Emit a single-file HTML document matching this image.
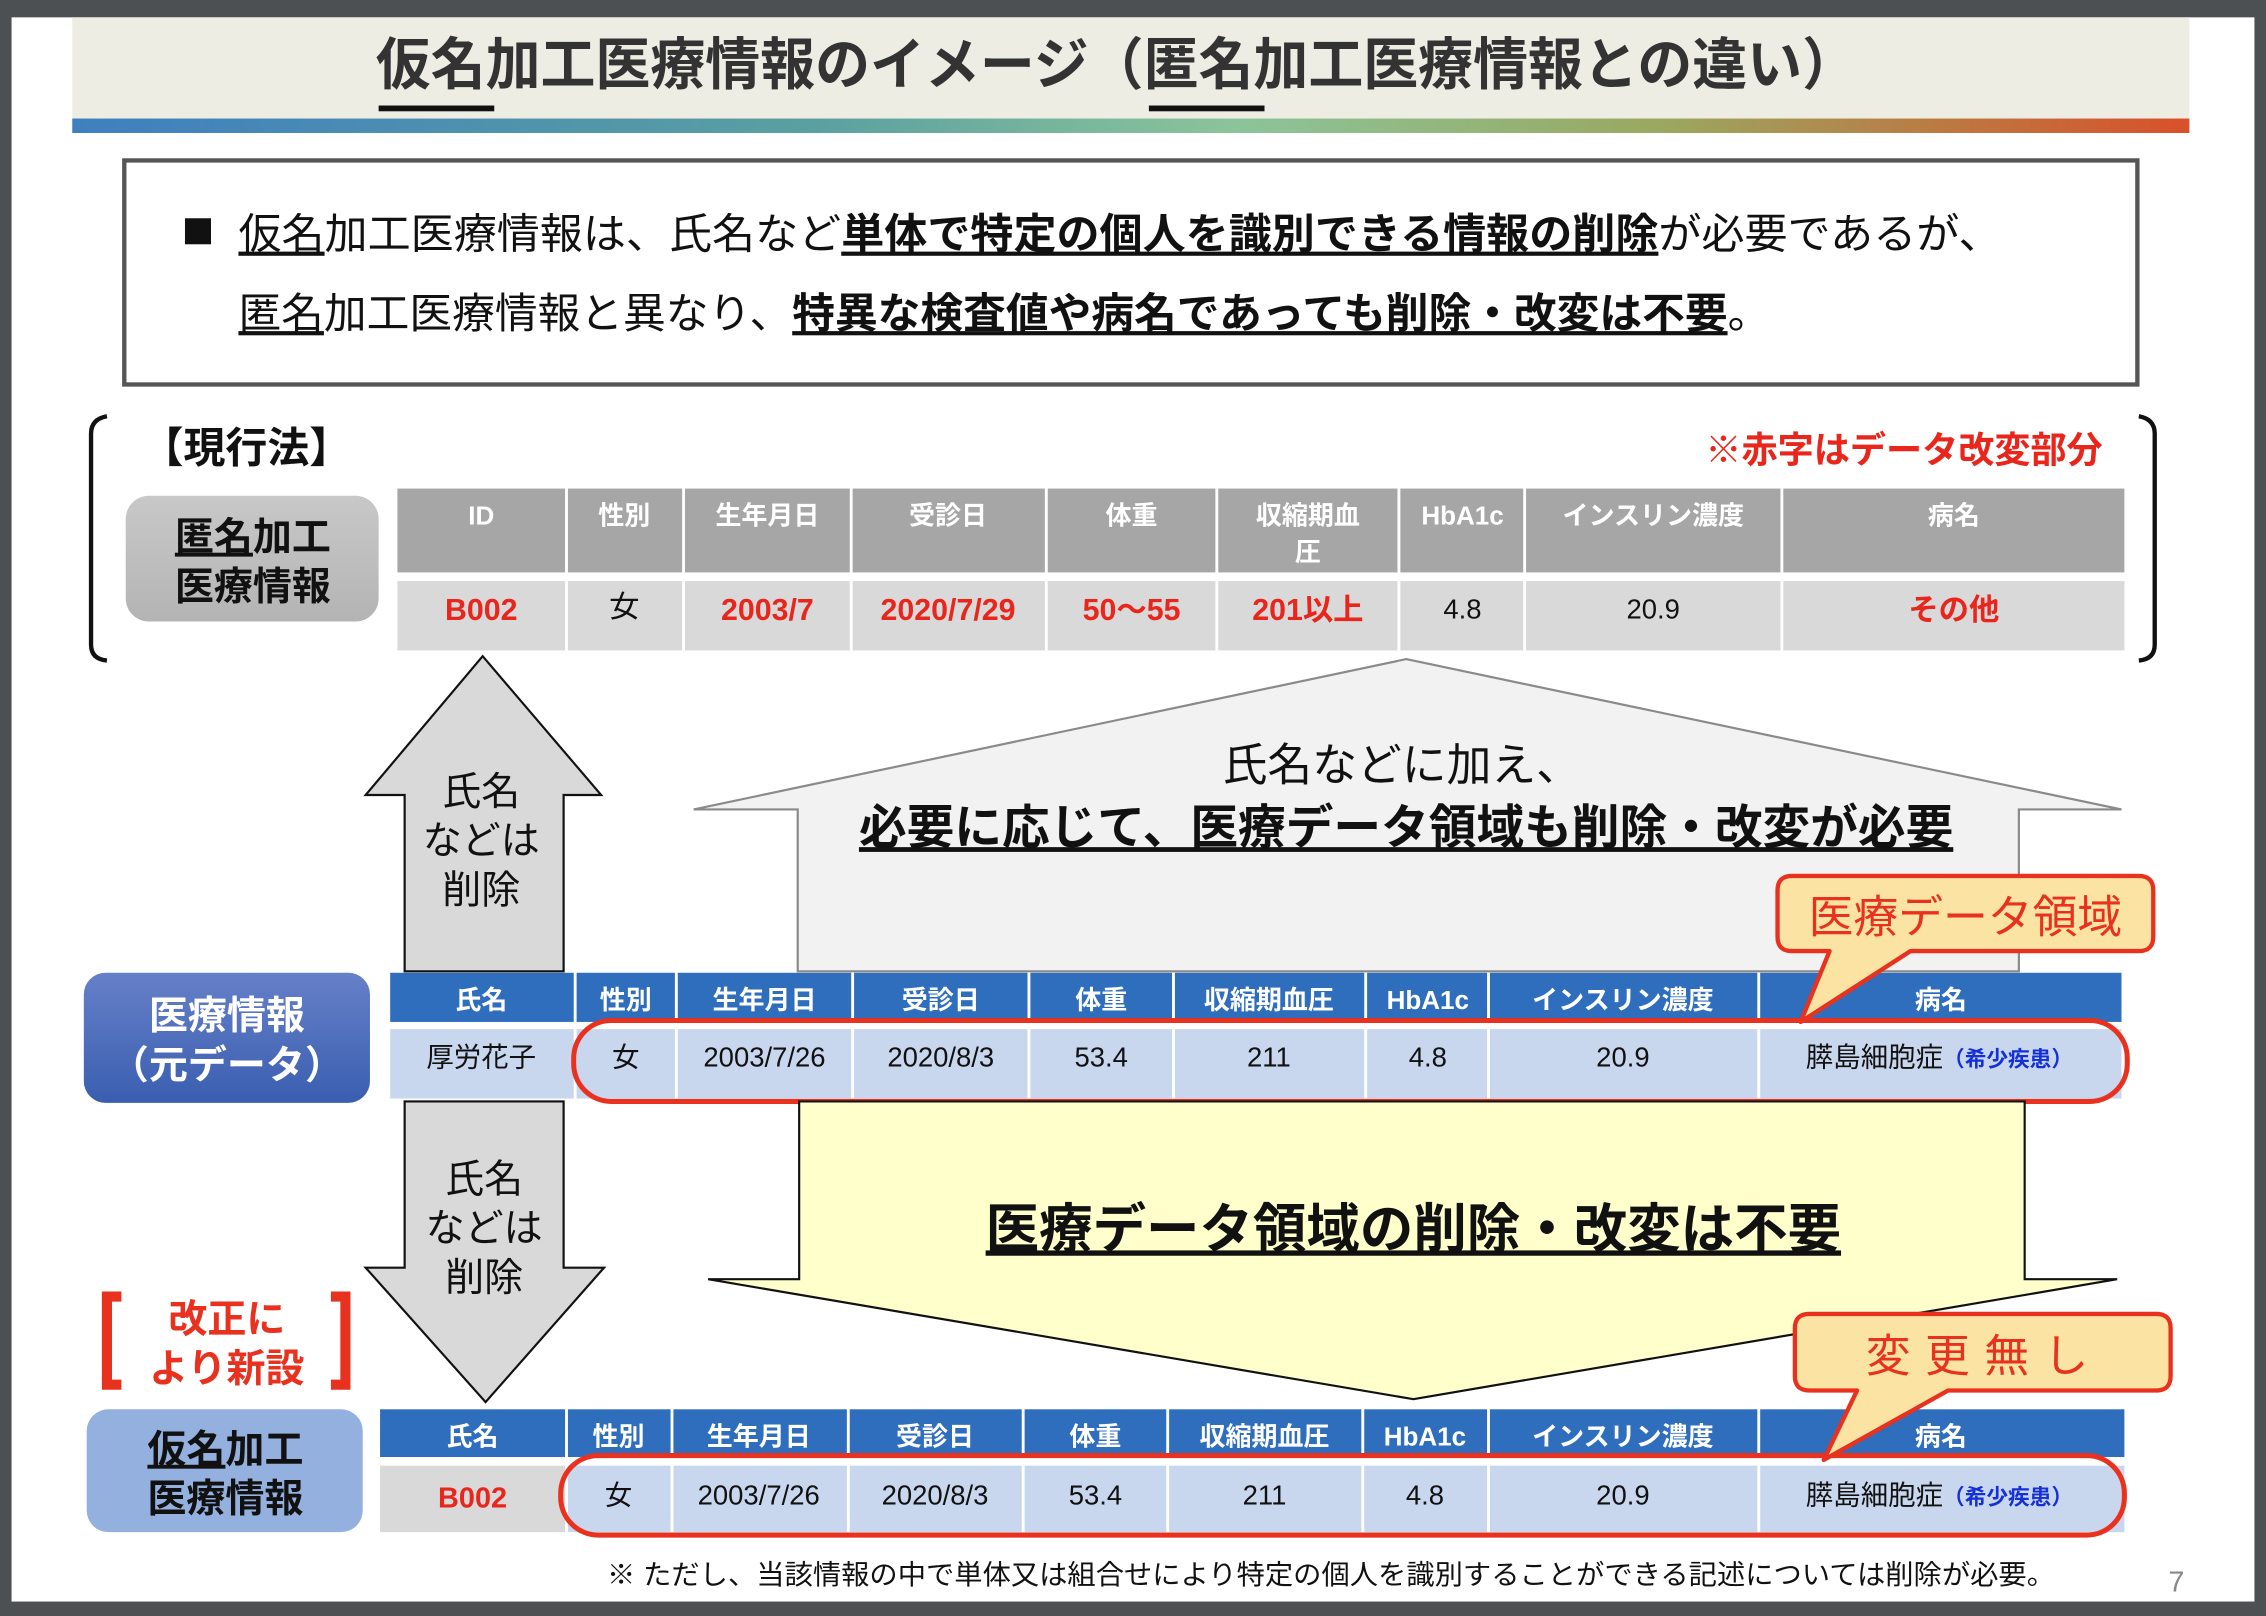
<!DOCTYPE html>
<html><head><meta charset="utf-8">
<style>
html,body{margin:0;padding:0;background:#fff;}
svg{display:block;}
text{font-family:"Liberation Sans","Noto Sans CJK JP",sans-serif;}
</style></head>
<body>
<svg width="2266" height="1616" viewBox="0 0 1568 1118" preserveAspectRatio="none" xmlns="http://www.w3.org/2000/svg">
<defs>
<linearGradient id="bar" x1="0" x2="1" y1="0" y2="0">
<stop offset="0" stop-color="#3f7fbf"/><stop offset="0.35" stop-color="#5aa0a0"/><stop offset="0.55" stop-color="#8cc49a"/><stop offset="0.75" stop-color="#9aa860"/><stop offset="1" stop-color="#d9502a"/>
</linearGradient>
<linearGradient id="blue" x1="0" x2="0" y1="0" y2="1">
<stop offset="0" stop-color="#6680c8"/><stop offset="1" stop-color="#3a5eb0"/>
</linearGradient>
<linearGradient id="gray" x1="0" x2="0" y1="0" y2="1">
<stop offset="0" stop-color="#c8c8c8"/><stop offset="1" stop-color="#b4b4b4"/>
</linearGradient>
</defs>
<rect x="0" y="0" width="1568" height="1118" fill="#4d5053"/>
<rect x="8" y="12" width="1552" height="1096" fill="#fff"/>
<rect x="50" y="12" width="1465" height="70" fill="#eeede4"/>
<rect x="50" y="82" width="1465" height="10" fill="url(#bar)"/>
<text x="260" y="58" font-size="39" font-weight="bold" fill="#333" textLength="1025" lengthAdjust="spacingAndGlyphs">仮名加工医療情報のイメージ（匿名加工医療情報との違い）</text>
<rect x="262" y="73" width="80" height="4" fill="#111"/>
<rect x="795" y="73" width="80" height="4" fill="#111"/>
<rect x="86" y="111" width="1393" height="155" fill="#fff" stroke="#555" stroke-width="3"/>
<rect x="128" y="151" width="18" height="18" fill="#111"/>
<text x="165" y="172" font-size="29" fill="#111" textLength="1220" lengthAdjust="spacingAndGlyphs"><tspan text-decoration="underline">仮名</tspan>加工医療情報は、氏名など<tspan font-weight="bold" text-decoration="underline">単体で特定の個人を識別できる情報の削除</tspan>が必要であるが、</text>
<text x="165" y="227" font-size="29" fill="#111" textLength="1060" lengthAdjust="spacingAndGlyphs"><tspan text-decoration="underline">匿名</tspan>加工医療情報と異なり、<tspan font-weight="bold" text-decoration="underline">特異な検査値や病名であっても削除・改変は不要</tspan>。</text>
<path d="M74 288 Q63 290 63 300 L63 446 Q63 456 74 457" fill="none" stroke="#111" stroke-width="3"/>
<path d="M1480 288 Q1491 290 1491 300 L1491 446 Q1491 456 1480 457" fill="none" stroke="#111" stroke-width="3"/>
<text x="98" y="320" font-size="29" font-weight="bold" fill="#111">【現行法】</text>
<text x="1455" y="320" font-size="25" font-weight="bold" fill="#e8261c" text-anchor="end">※赤字はデータ改変部分</text>
<rect x="87" y="343" width="175" height="87" rx="16" fill="url(#gray)"/>
<text x="175" y="381" font-size="27" font-weight="bold" fill="#111" text-anchor="middle"><tspan text-decoration="underline">匿名</tspan>加工</text>
<text x="175" y="415" font-size="27" font-weight="bold" fill="#111" text-anchor="middle">医療情報</text>
<g fill="#a6a6a6">
<rect x="275" y="338" width="116" height="58"/><rect x="393" y="338" width="79" height="58"/><rect x="474" y="338" width="114" height="58"/><rect x="590" y="338" width="133" height="58"/><rect x="725" y="338" width="116" height="58"/><rect x="843" y="338" width="124" height="58"/><rect x="969" y="338" width="85" height="58"/><rect x="1056" y="338" width="176" height="58"/><rect x="1234" y="338" width="236" height="58"/>
</g>
<g fill="#d9d9d9">
<rect x="275" y="402" width="116" height="48"/><rect x="393" y="402" width="79" height="48"/><rect x="474" y="402" width="114" height="48"/><rect x="590" y="402" width="133" height="48"/><rect x="725" y="402" width="116" height="48"/><rect x="843" y="402" width="124" height="48"/><rect x="969" y="402" width="85" height="48"/><rect x="1056" y="402" width="176" height="48"/><rect x="1234" y="402" width="236" height="48"/>
</g>
<g font-size="18" font-weight="bold" fill="#fff" text-anchor="middle">
<text x="333" y="363">ID</text><text x="432" y="363">性別</text><text x="531" y="363">生年月日</text><text x="656" y="363">受診日</text><text x="783" y="363">体重</text><text x="905" y="363">収縮期血</text><text x="905" y="388">圧</text><text x="1012" y="363">HbA1c</text><text x="1144" y="363">インスリン濃度</text><text x="1352" y="363">病名</text>
</g>
<g font-size="21" font-weight="bold" fill="#e8261c" text-anchor="middle">
<text x="333" y="429">B002</text><text x="432" y="427" fill="#111" font-weight="normal">女</text><text x="531" y="429">2003/7</text><text x="656" y="429">2020/7/29</text><text x="783" y="429">50～55</text><text x="905" y="429">201以上</text><text x="1012" y="428" fill="#111" font-weight="normal" font-size="19">4.8</text><text x="1144" y="428" fill="#111" font-weight="normal" font-size="19">20.9</text><text x="1352" y="429">その他</text>
</g>
<polygon points="334,454 416,550 390,550 390,672 280,672 280,550 253,550" fill="#d9d9d9" stroke="#111" stroke-width="1.5"/>
<g font-size="27" fill="#111" text-anchor="middle">
<text x="333" y="557">氏名</text><text x="333" y="591">などは</text><text x="333" y="625">削除</text>
</g>
<polygon points="973,456 1468,560 1397,560 1397,672 552,672 552,560 480,560" fill="#f2f2f2" stroke="#8a8a8a" stroke-width="1.5"/>
<text x="970" y="540" font-size="31" fill="#111" text-anchor="middle">氏名などに加え、</text>
<text x="973" y="584" font-size="33" font-weight="bold" fill="#111" text-anchor="middle" text-decoration="underline">必要に応じて、医療データ領域も削除・改変が必要</text>
<rect x="58" y="673" width="198" height="90" rx="15" fill="url(#blue)"/>
<text x="157" y="712" font-size="27" font-weight="bold" fill="#fff" text-anchor="middle">医療情報</text>
<text x="157" y="746" font-size="27" font-weight="bold" fill="#fff" text-anchor="middle">（元データ）</text>
<g fill="#2f6ebd">
<rect x="270" y="673" width="127" height="34"/><rect x="399" y="673" width="68" height="34"/><rect x="469" y="673" width="120" height="34"/><rect x="591" y="673" width="120" height="34"/><rect x="713" y="673" width="98" height="34"/><rect x="813" y="673" width="131" height="34"/><rect x="946" y="673" width="83" height="34"/><rect x="1031" y="673" width="185" height="34"/><rect x="1218" y="673" width="250" height="34"/>
</g>
<g fill="#c9d7ee">
<rect x="270" y="712" width="127" height="48"/><rect x="399" y="712" width="68" height="48"/><rect x="469" y="712" width="120" height="48"/><rect x="591" y="712" width="120" height="48"/><rect x="713" y="712" width="98" height="48"/><rect x="813" y="712" width="131" height="48"/><rect x="946" y="712" width="83" height="48"/><rect x="1031" y="712" width="185" height="48"/><rect x="1218" y="712" width="250" height="48"/>
</g>
<g font-size="18" font-weight="bold" fill="#fff" text-anchor="middle">
<text x="333" y="698">氏名</text><text x="433" y="698">性別</text><text x="529" y="698">生年月日</text><text x="651" y="698">受診日</text><text x="762" y="698">体重</text><text x="878" y="698">収縮期血圧</text><text x="988" y="698">HbA1c</text><text x="1123" y="698">インスリン濃度</text><text x="1343" y="698">病名</text>
</g>
<g font-size="19" fill="#111" text-anchor="middle">
<text x="333" y="738">厚労花子</text><text x="433" y="738">女</text><text x="529" y="738">2003/7/26</text><text x="651" y="738">2020/8/3</text><text x="762" y="738">53.4</text><text x="878" y="738">211</text><text x="988" y="738">4.8</text><text x="1123" y="738">20.9</text>
<text x="1342" y="738">膵島細胞症<tspan font-size="15" font-weight="bold" fill="#1530d8">（希少疾患）</tspan></text>
</g>
<rect x="397" y="706" width="1075" height="56" rx="26" fill="none" stroke="#e8321f" stroke-width="3.5"/>
<path d="M1240 606 H1480 Q1490 606 1490 616 V648 Q1490 658 1480 658 H1322 L1246 707 L1266 658 H1240 Q1230 658 1230 648 V616 Q1230 606 1240 606 Z" fill="#fbe4a3" stroke="#e8321f" stroke-width="3" stroke-linejoin="round"/>
<text x="1360" y="645" font-size="31" fill="#e8321f" text-anchor="middle">医療データ領域</text>
<polygon points="280,762 390,762 390,877 418,877 336,970 253,877 280,877" fill="#d9d9d9" stroke="#111" stroke-width="1.5"/>
<g font-size="27" fill="#111" text-anchor="middle">
<text x="335" y="825">氏名</text><text x="335" y="859">などは</text><text x="335" y="893">削除</text>
</g>
<polygon points="553,762 1401,762 1401,885 1465,885 978,968 490,885 553,885" fill="#ffffcc" stroke="#111" stroke-width="1.5"/>
<text x="978" y="863" font-size="37" font-weight="bold" fill="#111" text-anchor="middle" text-decoration="underline">医療データ領域の削除・改変は不要</text>
<path d="M84 897 H74 V958 H84" fill="none" stroke="#e8321f" stroke-width="7"/>
<path d="M229 897 H239 V958 H229" fill="none" stroke="#e8321f" stroke-width="7"/>
<text x="157" y="922" font-size="27" font-weight="bold" fill="#e8321f" text-anchor="middle">改正に</text>
<text x="157" y="956" font-size="27" font-weight="bold" fill="#e8321f" text-anchor="middle">より新設</text>
<rect x="60" y="975" width="191" height="85" rx="15" fill="#93b0df"/>
<text x="156" y="1012" font-size="27" font-weight="bold" fill="#111" text-anchor="middle"><tspan text-decoration="underline">仮名</tspan>加工</text>
<text x="156" y="1046" font-size="27" font-weight="bold" fill="#111" text-anchor="middle">医療情報</text>
<g fill="#2f6ebd">
<rect x="263" y="975" width="128" height="33"/><rect x="393" y="975" width="71" height="33"/><rect x="466" y="975" width="120" height="33"/><rect x="588" y="975" width="119" height="33"/><rect x="709" y="975" width="98" height="33"/><rect x="809" y="975" width="133" height="33"/><rect x="944" y="975" width="85" height="33"/><rect x="1031" y="975" width="185" height="33"/><rect x="1218" y="975" width="252" height="33"/>
</g>
<rect x="263" y="1014" width="128" height="46" fill="#d9d9d9"/>
<g fill="#c9d7ee">
<rect x="393" y="1014" width="71" height="46"/><rect x="466" y="1014" width="120" height="46"/><rect x="588" y="1014" width="119" height="46"/><rect x="709" y="1014" width="98" height="46"/><rect x="809" y="1014" width="133" height="46"/><rect x="944" y="1014" width="85" height="46"/><rect x="1031" y="1014" width="185" height="46"/><rect x="1218" y="1014" width="252" height="46"/>
</g>
<g font-size="18" font-weight="bold" fill="#fff" text-anchor="middle">
<text x="327" y="1000">氏名</text><text x="428" y="1000">性別</text><text x="525" y="1000">生年月日</text><text x="647" y="1000">受診日</text><text x="758" y="1000">体重</text><text x="875" y="1000">収縮期血圧</text><text x="986" y="1000">HbA1c</text><text x="1123" y="1000">インスリン濃度</text><text x="1343" y="1000">病名</text>
</g>
<text x="327" y="1043" font-size="20" font-weight="bold" fill="#e8261c" text-anchor="middle">B002</text>
<g font-size="19" fill="#111" text-anchor="middle">
<text x="428" y="1041">女</text><text x="525" y="1041">2003/7/26</text><text x="647" y="1041">2020/8/3</text><text x="758" y="1041">53.4</text><text x="875" y="1041">211</text><text x="986" y="1041">4.8</text><text x="1123" y="1041">20.9</text>
<text x="1342" y="1041">膵島細胞症<tspan font-size="15" font-weight="bold" fill="#1530d8">（希少疾患）</tspan></text>
</g>
<rect x="388" y="1007" width="1082" height="55" rx="26" fill="none" stroke="#e8321f" stroke-width="3.5"/>
<path d="M1252 909 H1492 Q1502 909 1502 919 V952 Q1502 962 1492 962 H1348 L1262 1010 L1285 962 H1252 Q1242 962 1242 952 V919 Q1242 909 1252 909 Z" fill="#fbe4a3" stroke="#e8321f" stroke-width="3" stroke-linejoin="round"/>
<text x="1373" y="949" font-size="31" fill="#e8321f" text-anchor="middle" letter-spacing="10">変更無し</text>
<text x="420" y="1096" font-size="19" fill="#111" textLength="1002" lengthAdjust="spacingAndGlyphs">※ ただし、当該情報の中で単体又は組合せにより特定の個人を識別することができる記述については削除が必要。</text>
<text x="1506" y="1101" font-size="20" fill="#888" text-anchor="middle">7</text>
</svg>
</body></html>
